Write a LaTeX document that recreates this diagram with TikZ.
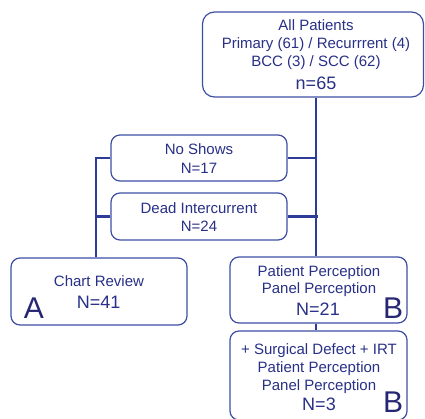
\documentclass[tikz,border=0pt]{standalone}
\usepackage{fontspec}
\setmainfont{Liberation Sans}
\definecolor{boxcol}{RGB}{62,78,165}
\definecolor{linecol}{RGB}{45,60,150}
\definecolor{textcol}{RGB}{40,48,135}
\definecolor{lettercol}{RGB}{38,38,115}
\tikzset{
  box/.style={draw=boxcol, line width=1.2pt, rounded corners=9pt, inner sep=0pt, fill=white},
  conn/.style={draw=linecol, line width=2.2pt},
  txt/.style={text=textcol, anchor=base, inner sep=0pt, font=\fontsize{15}{18}\selectfont},
  big/.style={text=textcol, anchor=base, inner sep=0pt, font=\fontsize{18}{21}\selectfont},
  letter/.style={text=lettercol, anchor=base, inner sep=0pt, font=\fontsize{30}{34}\selectfont},
}
\begin{document}
\begin{tikzpicture}[x=1pt,y=-1pt]
\useasboundingbox (0,0) rectangle (425,419);
\fill[white] (0,0) rectangle (425,419);
\coordinate (trunk) at (316,0);
\coordinate (left) at (96,0);

% boxes
\node[box, rounded corners=12pt, minimum width=221pt, minimum height=85pt] (top) at (313,54.5) {};
\node[box, minimum width=176pt, minimum height=46pt] (noshow) at (199,158) {};
\node[box, minimum width=176pt, minimum height=47pt] (dead) at (199,216.5) {};
\node[box, minimum width=176pt, minimum height=67pt] (chart) at (99,291.5) {};
\node[box, minimum width=177pt, minimum height=66pt] (pp) at (318.5,290) {};
\node[box, minimum width=177pt, minimum height=89pt] (bot) at (318.5,375.5) {};

% connectors
\draw[conn] (top.south -| trunk) -- (pp.north -| trunk);
\draw[conn] (noshow.east) -- (noshow.east -| trunk);
\draw[conn] (dead.east) -- ([xshift=2pt]dead.east -| trunk);
\draw[conn] (noshow.west) -- (noshow.west -| left) -- (chart.north -| left);
\draw[conn] (dead.west) -- (dead.west -| left);
\draw[conn] (pp.south -| trunk) -- (bot.north -| trunk);

% texts: top
\node[txt] (t1) at (316,30.7) {All Patients};
\node[txt] (t2) at (316,49) {Primary (61) / Recurrrent (4)};
\node[txt] (t3) at (316,66.7) {BCC (3) / SCC (62)};
\node[big] (t4) at (316,89.3) {n=65};
% no shows
\node[txt] (n1) at (199,155) {No Shows};
\node[txt] (n2) at (199,173.3) {N=17};
% dead
\node[txt] (d1) at (199,214) {Dead Intercurrent};
\node[txt] (d2) at (199,231.7) {N=24};
% chart
\node[txt] (c1) at (99,286.7) {Chart Review};
\node[big] (c2) at (98.7,308.3) {N=41};
\node[letter] (cA) at (34,318.3) {A};
% pp
\node[txt] (p1) at (319,276.7) {Patient Perception};
\node[txt] (p2) at (319,294) {Panel Perception};
\node[big] (p3) at (318,315) {N=21};
\node[letter] (pB) at (393,318.3) {B};
% bottom
\node[txt] (b1) at (319,354) {+ Surgical Defect + IRT};
\node[txt] (b2) at (319,372) {Patient Perception};
\node[txt] (b3) at (319,390) {Panel Perception};
\node[big] (b4) at (319,410) {N=3};
\node[letter] (bB) at (393,412) {B};
\end{tikzpicture}
\end{document}
